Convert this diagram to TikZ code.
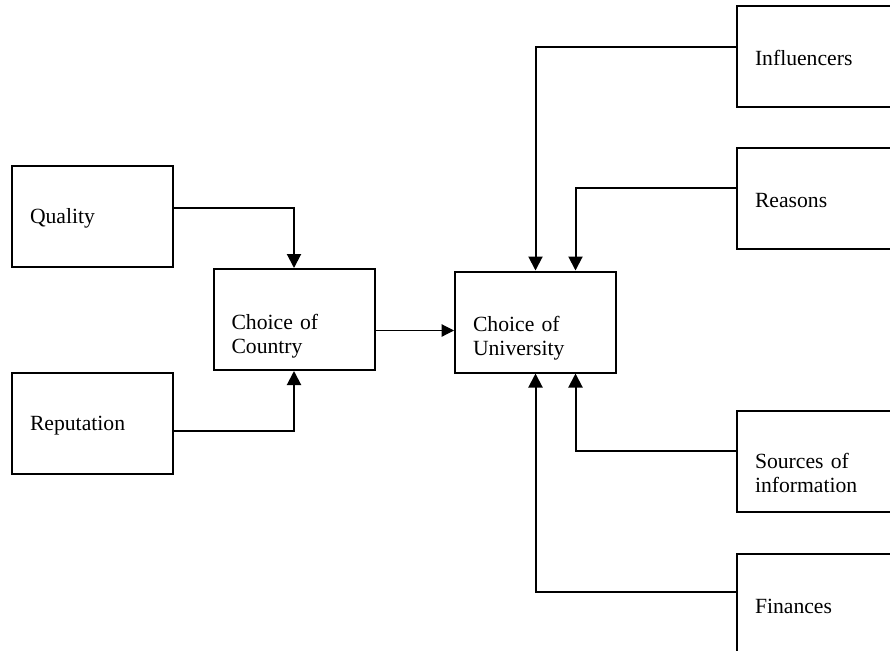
\documentclass[tikz,border=0pt]{standalone}
\usepackage{fontspec}
\setmainfont{Liberation Serif}
\usetikzlibrary{arrows.meta,positioning,calc}
\tikzset{box/.style={draw=black,line width=1.2pt,rectangle,align=left,text width=75pt,inner xsep=10.8pt,minimum width=96.6pt,minimum height=60.6pt,font=\fontsize{13}{14.4}\selectfont},edge/.style={-{Triangle[length=8.4pt,width=8.4pt]},line width=1.2pt,draw=black},thinedge/.style={-{Triangle[length=7.5pt,width=7.5pt]},line width=0.7pt,draw=black}}

\begin{document}
\begin{tikzpicture}[x=0.6pt,y=-0.6pt]
\clip (0,0) rectangle (890,650);
\node[box,text height=12pt] (quality) at (92.5,216) {Quality};
\node[box,text height=12pt] (reputation) at (92.5,423) {Reputation};
\node[box,text height=29pt] (country) at (294,319.5) {Choice of\\Country};
\node[box,text height=29pt] (university) at (535.5,322) {Choice of\\University};
\node[box,text height=12pt] (influencers) at (817.5,56) {Influencers};
\node[box,text height=12pt] (reasons) at (817.5,198) {Reasons};
\node[box,text height=24pt] (sources) at (817.5,461) {Sources of\\information};
\node[box,text height=12pt] (finances) at (817.5,604) {Finances};
\coordinate (cc) at ([yshift=-6.6pt]country.east);
\draw[edge] ([yshift=4.8pt]quality.east) -| (country.north);
\draw[edge] ([yshift=-5pt]reputation.east) -| (country.south);
\draw[thinedge] (cc) -- (cc -| university.west);
\draw[edge] ([yshift=5.4pt]influencers.west) -| (university.north);
\draw[edge] ([yshift=6pt]reasons.west) -| ([xshift=24pt]university.north);
\draw[edge] ([yshift=6pt]sources.west) -| ([xshift=24pt]university.south);
\draw[edge] ([yshift=7pt]finances.west) -| (university.south);
\end{tikzpicture}
\end{document}
